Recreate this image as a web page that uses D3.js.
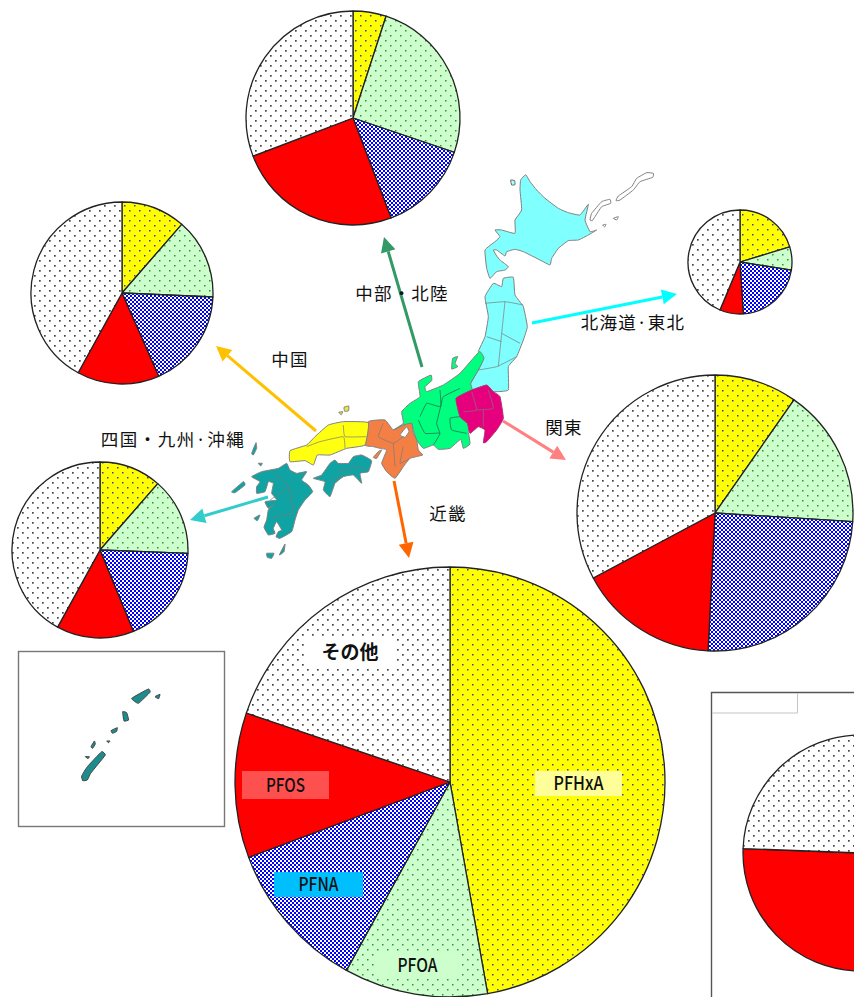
<!DOCTYPE html>
<html lang="ja">
<head>
<meta charset="utf-8">
<style>
html,body{margin:0;padding:0;background:#fff;overflow:hidden}
svg{display:block}
text{font-family:"Noto Sans CJK JP","Noto Sans",sans-serif;fill:#111}
</style>
<script src="https://cdn.jsdelivr.net/npm/d3@7"></script>
</head>
<body>
<div id="chart"></div>
<script>
// ---------- data ----------
const components = ["PFHxA","PFOA","PFNA","PFOS","その他"];
const regionNames = ["中部・北陸","中国","北海道·東北","四国・九州·沖縄","関東","近畿"];
// percentage shares, in drawing order
const chubu   = [5.0,25.2,14.0,25.0,30.8];
const chugoku = [11.4,14.3,17.7,14.6,42.0];
const tohoku  = [20.3,7.2,21.5,7.3,43.7];
const shikoku = [11.4,14.2,18.2,14.2,42.0];
const kanto   = [9.7,16.3,24.8,16.4,32.8];
const kinki   = [47.2,10.8,11.3,10.9,19.8];
const zenkoku = [12.0,14.0,24.0,25.6,24.4];
const seriesList = [chubu,chugoku,tohoku,shikoku,kanto,kinki,zenkoku];
const pieSizes = [107,91,52,88,138,215,118];
const pieCx = [353,122,740,100,715,450,861];
const pieCy = [118,293,262,550,513,782,853];

// map traced in map units (1 unit = 1/3 px)
const hokkaido = [[872,30],[887,14],[900,35],[920,60],[945,85],[985,115],[1015,128],[1050,135],[1075,103],[1065,150],[1080,185],[1100,180],[1075,195],[1045,210],[1015,212],[985,235],[965,265],[960,285],[930,270],[880,245],[855,238],[830,245],[825,258],[800,240],[790,240],[800,258],[810,270],[835,290],[825,300],[800,305],[780,325],[770,295],[765,240],[795,215],[810,200],[795,180],[815,180],[855,190],[855,150],[875,120],[870,60]];
const tohokuMap = [[820,325],[850,322],[855,375],[880,410],[892,470],[880,510],[860,560],[835,590],[835,660],[790,665],[770,648],[725,660],[722,640],[745,600],[760,565],[745,545],[765,500],[775,440],[765,380],[790,340],[815,350]];
const chubuMap = [[748,545],[762,565],[745,600],[722,640],[726,660],[680,685],[690,740],[715,760],[715,785],[720,822],[700,835],[692,808],[660,835],[625,838],[610,825],[580,835],[560,810],[550,780],[545,760],[520,770],[490,780],[520,760],[515,725],[540,700],[570,680],[565,635],[603,615],[605,632],[585,650],[590,665],[640,645],[690,610]];
const sado = [[668,565],[683,560],[675,580],[683,590],[665,597]];
const kantoMap = [[678,685],[725,660],[770,645],[790,665],[810,680],[820,745],[800,780],[770,815],[760,818],[765,780],[745,770],[720,790],[712,760],[690,740]];
const kinkiMap = [[415,755],[465,750],[490,780],[520,765],[545,760],[550,790],[560,810],[565,840],[578,855],[540,865],[520,890],[495,925],[470,905],[455,880],[470,840],[450,835],[430,830],[405,825]];
const awaji = [[445,845],[455,840],[440,865],[430,862]];
const biwa = [[510,795],[530,770],[537,785],[525,802]];
const chugokuMap = [[180,842],[230,825],[255,800],[295,765],[340,755],[415,758],[405,825],[350,835],[300,855],[262,855],[250,885],[225,872],[180,875]];
const shikokuMap = [[250,925],[275,915],[300,880],[315,870],[325,880],[355,880],[370,860],[395,855],[425,872],[415,905],[390,910],[395,940],[370,915],[340,920],[315,940],[300,980],[280,960],[285,935]];
const kyushuMap = [[95,905],[145,895],[170,880],[180,900],[200,910],[230,905],[215,930],[235,945],[248,965],[225,990],[205,1020],[195,1050],[185,1085],[150,1105],[138,1100],[145,1085],[155,1080],[140,1055],[130,1075],[135,1090],[115,1095],[102,1072],[110,1050],[115,1020],[130,1005],[115,1015],[105,995],[140,990],[125,970],[130,940],[115,935],[105,965],[80,970],[80,950],[90,935],[65,920]];
const tealIslands = [
  [[5,965],[40,935],[45,945],[15,968]],[[65,850],[78,818],[80,835],[70,855]],
  [[85,880],[97,880],[92,888]],[[72,1045],[90,1035],[82,1052]],
  [[110,1150],[132,1150],[125,1165],[112,1162]],[[148,1155],[165,1122],[162,1145]]];
const yellowIslands = [[[342,712],[356,708],[356,722],[344,724]],[[326,727],[338,725],[334,734]]];
const inland = [
  [[630,660],[632,710],[590,700],[570,740]],[[690,655],[640,680],[632,710],[620,760],[630,790]],[[690,740],[660,745],[665,780],[710,790]],[[565,750],[585,790],[630,790],[610,825]]];
const greyLines = [
  [[765,400],[825,395],[880,405]],[[825,395],[815,490],[805,590]],[[815,490],[870,520]],[[770,500],[815,515]],[[745,600],[800,590],[860,560]],
  [[725,665],[740,720],[700,725]],[[740,720],[790,715],[775,660]],[[760,720],[760,770]],
  [[460,760],[445,800],[490,820],[520,800]],[[490,820],[495,890]],[[520,830],[510,880],[540,865]],
  [[230,830],[270,815],[340,800],[345,835]],[[340,765],[345,800],[410,800]],
  [[130,910],[175,950],[120,990]],[[175,950],[190,1030],[130,1040]],[[325,905],[385,890],[410,900]],[[300,935],[340,915]]];
const kurils = [[[1080,150],[1085,130],[1115,95],[1140,88],[1142,100],[1115,110],[1095,140],[1087,152]],[[1158,92],[1165,78],[1205,50],[1220,25],[1250,8],[1270,10],[1268,22],[1230,35],[1210,60],[1170,90]],[[1150,145],[1165,140],[1160,150]],[[1118,165],[1128,163],[1124,171]]];
const rishiri = [[[842,30],[854,32],[855,44],[845,45]]];
const okinawa = [[[245,408],[262,380],[305,335],[316,345],[292,375],[272,400],[262,420],[248,422]],[[395,175],[445,147],[450,157],[415,190]],[[368,215],[380,218],[386,240],[372,243]],[[333,272],[352,263],[350,274],[338,280]],[[273,320],[283,303],[286,312],[278,325]],[[465,170],[480,163],[476,176]],[[256,350],[268,350],[264,356]],[[320,303],[330,303],[326,308]]];

// arrows: tail and tip, in page units
const arrowColors = ["#339966","#FFC000","#00FFFF","#33CCCC","#FF8080","#FF6600"];
const arrowTails = [[422,367],[316,431],[532,323],[268,497],[503,421],[394,481]];
const arrowTips  = [[384,237],[216,346],[677,294],[190,520],[566,460],[409,558]];
const labelX = [402,290,633,173,564,448];
const labelY = [294,360,323,440,428,514];

// ---------- drawing ----------
const W=854,H=997;
const svg=d3.select("#chart").append("svg").attr("width",W).attr("height",H).attr("viewBox",[0,0,W,H]);
const defs=svg.append("defs");
function dots(id,bg,fg,s){
  const p=defs.append("pattern").attr("id",id).attr("patternUnits","userSpaceOnUse").attr("width",10).attr("height",10);
  p.append("rect").attr("width",10).attr("height",10).attr("fill",bg);
  [[2,2],[7,7]].forEach(d=>p.append("rect").attr("x",d[0]).attr("y",d[1]).attr("width",s).attr("height",s).attr("fill",fg));
}
dots("pY","#FFFF00","#3838b0",1.5);
dots("pG","#CCFFCC","#2f8f3f",1.5);
dots("pO","#FFFFFF","#444444",1.7);
const pb=defs.append("pattern").attr("id","pB").attr("patternUnits","userSpaceOnUse").attr("width",4).attr("height",4);
pb.append("rect").attr("width",4).attr("height",4).attr("fill","#0000FF");
pb.append("rect").attr("width",2).attr("height",2).attr("fill","#fff");
pb.append("rect").attr("x",2).attr("y",2).attr("width",2).attr("height",2).attr("fill","#fff");
const fillScale=d3.scaleOrdinal().domain(components).range(["url(#pY)","url(#pG)","url(#pB)","#FF0000","url(#pO)"]);

// frames behind everything
svg.append("rect").attr("x",18.5).attr("y",651.5).attr("width",206).attr("height",175).attr("fill","#fff").attr("stroke","#777").attr("stroke-width",1.4);
svg.append("path").attr("d","M711.5,997V692.5H860").attr("fill","none").attr("stroke","#555").attr("stroke-width",1.4);
svg.append("path").attr("d","M712,713H797.5V693").attr("fill","none").attr("stroke","#c4c4c4");

// pies
const pieGen=d3.pie().sort(null);
seriesList.forEach((vals,i)=>{
  const r=pieSizes[i];
  const arc=d3.arc().innerRadius(0).outerRadius(r);
  const g=svg.append("g").attr("transform",`translate(${pieCx[i]},${pieCy[i]})`);
  g.selectAll("path").data(pieGen(vals)).join("path")
    .attr("d",arc).attr("fill",(d,j)=>fillScale(components[j]))
    .attr("stroke","#222").attr("stroke-width",1.3).attr("stroke-linejoin","round");
});

// map
const mapX=d3.scaleLinear().domain([0,1320]).range([230,670]);
const mapY=d3.scaleLinear().domain([0,1200]).range([170,570]);
const closed=d3.line().x(d=>mapX(d[0])).y(d=>mapY(d[1])).curve(d3.curveCardinalClosed.tension(.65));
const open=d3.line().x(d=>mapX(d[0])).y(d=>mapY(d[1])).curve(d3.curveCardinal.tension(.65));
const mapG=svg.append("g");
function land(list,fill,stroke="#808080"){
  mapG.selectAll(null).data(list).join("path").attr("d",closed).attr("fill",fill).attr("stroke",stroke).attr("stroke-width",1).attr("stroke-linejoin","round");
}
land([hokkaido,tohokuMap],"#80FFFF");
land(rishiri,"#A8FFFF","#666");
land(kurils,"#fff","#808080");
land([chubuMap,sado],"#00FF7F");
land([kantoMap],"#E6007E","#b0306f");
land([kinkiMap,awaji],"#F47F45");
land([biwa],"#fff");
land([chugokuMap],"#FFFF10");
land(yellowIslands,"#E8E840");
land([shikokuMap,kyushuMap,...tealIslands],"#0FA3A3");
mapG.selectAll(null).data(inland).join("path").attr("d",open).attr("fill","none").attr("stroke","#2c6b4a").attr("stroke-width",.8);
mapG.selectAll(null).data(greyLines).join("path").attr("d",open).attr("fill","none").attr("stroke","#7a7a7a").attr("stroke-width",.7);

// Okinawa inset
const inLine=d3.line().x(d=>d[0]/3).y(d=>640+d[1]/3).curve(d3.curveCardinalClosed.tension(.65));
svg.append("g").selectAll("path").data(okinawa).join("path").attr("d",inLine).attr("fill","#1E8C8C").attr("stroke","#444").attr("stroke-width",1);

// arrows
arrowTails.forEach((t,i)=>{
  const tip=arrowTips[i],dx=tip[0]-t[0],dy=tip[1]-t[1],L=Math.hypot(dx,dy),ux=dx/L,uy=dy/L;
  const hl=15,hw=7.5,bx=tip[0]-ux*hl,by=tip[1]-uy*hl;
  svg.append("line").attr("x1",t[0]).attr("y1",t[1]).attr("x2",bx).attr("y2",by).attr("stroke",arrowColors[i]).attr("stroke-width",3);
  svg.append("path").attr("d",d3.line()([tip,[bx-uy*hw,by+ux*hw],[bx+uy*hw,by-ux*hw]])+"Z").attr("fill",arrowColors[i]);
});

// region labels
regionNames.forEach((t,i)=>{
  svg.append("text").attr("x",labelX[i]).attr("y",labelY[i]+1.5).attr("text-anchor","middle").attr("dominant-baseline","middle")
    .attr("font-size",17.5).attr("letter-spacing",i===3?"1.5px":"1.2px").text(t);
});

// component labels on the big pie
const boxColors=["#FFFF99","#CCFFCC","#00BFFF","#FF5050","#FFFFFF"];
const boxX=[535,375,274,242,305],boxY=[771,952,872,771,639],boxW=[87,85,89,87,90],boxH=[25,26,25,28,27];
const labelLen=[50,40,40,39,null];
components.forEach((c,i)=>{
  svg.append("rect").attr("x",boxX[i]).attr("y",boxY[i]).attr("width",boxW[i]).attr("height",boxH[i]).attr("fill",boxColors[i]);
  const t=svg.append("text").attr("x",boxX[i]+boxW[i]/2).attr("y",boxY[i]+boxH[i]/2+1.5).attr("text-anchor","middle").attr("dominant-baseline","middle")
    .attr("font-size",19).attr("font-weight",c==="その他"?700:500).text(c);
  if(labelLen[i]) t.attr("textLength",labelLen[i]).attr("lengthAdjust","spacingAndGlyphs");
});
</script>
</body>
</html>
